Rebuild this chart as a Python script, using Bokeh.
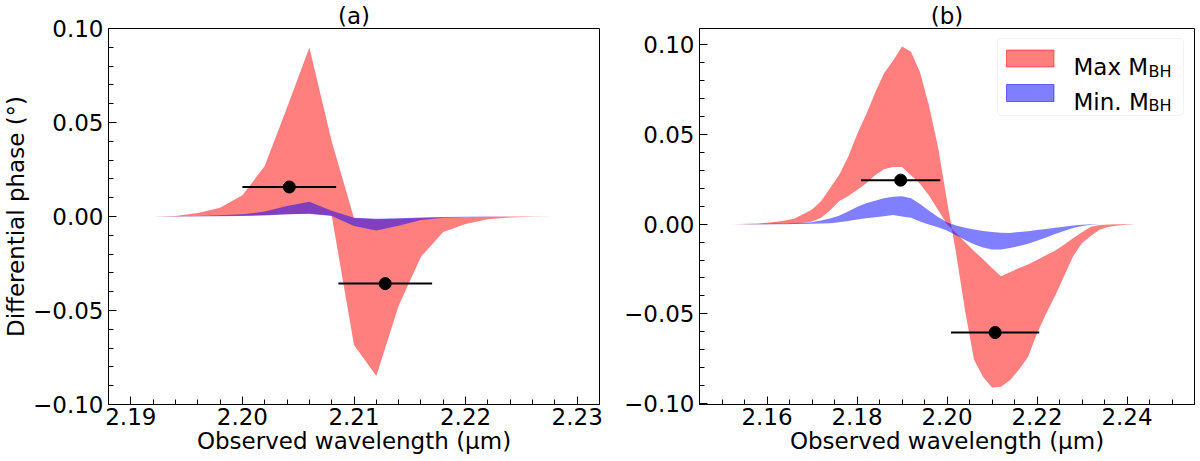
# Differential phase bands for max / min black-hole mass, two panels side by side.
from bokeh.embed import file_html
from bokeh.layouts import row
from bokeh.models import (BoxAnnotation, ColumnDataSource, CustomJSTickFormatter,
                          FixedTicker, Label, Range1d)
from bokeh.plotting import figure
from bokeh.resources import INLINE

FONT = "DejaVu Sans"
FS = "23px"
FIG_H = 461
B_TOP = 27
B_BOTTOM = 57
FRAME_H = FIG_H - B_TOP - B_BOTTOM

# ---- panel (a) ----
wl_a = [2.190, 2.192, 2.194, 2.196, 2.198, 2.200, 2.202, 2.204, 2.206, 2.208, 2.210,
        2.212, 2.214, 2.216, 2.218, 2.220, 2.222, 2.224, 2.226, 2.228, 2.230]
a_max_hi = [0.0, 0.0, 0.0003, 0.0019, 0.0047, 0.0113, 0.0268, 0.058, 0.0899, 0.040, -0.0008,
            -0.0015, -0.0012, -0.0008, -0.0004, -0.0002, -0.0001, 0.0, 0.0, 0.0, 0.0]
a_max_lo = [0.0, 0.0, 0.0, 0.0001, 0.0002, 0.0004, 0.0008, 0.0012, 0.0015, 0.0005, -0.0683,
            -0.0848, -0.0475, -0.0214, -0.0083, -0.0040, -0.0014, -0.0005, -0.0001, 0.0, 0.0]
a_min_hi = [0.0, 0.0, 0.0001, 0.0003, 0.0006, 0.0012, 0.0026, 0.0056, 0.0078, 0.0030, -0.0007,
            -0.0012, -0.0009, -0.0005, -0.0003, -0.0001, 0.0, 0.0, 0.0, 0.0, 0.0]
a_min_lo = [0.0, 0.0, 0.0, 0.0001, 0.0001, 0.0002, 0.0005, 0.0012, 0.0015, 0.0003, -0.0050,
            -0.0075, -0.0049, -0.0019, -0.0007, -0.0003, -0.0001, 0.0, 0.0, 0.0, 0.0]
a_obs_x = [2.2042, 2.2128]
a_obs_y = [0.0157, -0.0357]
a_obs_xerr = [0.0042, 0.0042]

# ---- panel (b) ----
wl_b = [2.150, 2.152, 2.154, 2.156, 2.158, 2.160, 2.162, 2.164, 2.166, 2.168,
        2.170, 2.172, 2.174, 2.176, 2.178, 2.180, 2.182, 2.184, 2.186, 2.188,
        2.190, 2.192, 2.194, 2.196, 2.198, 2.200, 2.202, 2.204, 2.206, 2.208,
        2.210, 2.212, 2.214, 2.216, 2.218, 2.220, 2.222, 2.224, 2.226, 2.228,
        2.230, 2.232, 2.234, 2.236, 2.238, 2.240, 2.242, 2.244, 2.246, 2.248, 2.250]
b_max_outer = [0.0, 0.0, 0.0001, 0.0002, 0.0004, 0.0008, 0.0013, 0.0020, 0.0030, 0.0055,
               0.0082, 0.0127, 0.0200, 0.0273, 0.0373, 0.0500, 0.0610, 0.0730, 0.0840, 0.0910,
               0.0990, 0.0960, 0.0846, 0.0660, 0.0430, 0.0130, -0.0160, -0.0480, -0.0755, -0.0850,
               -0.0910, -0.0906, -0.0870, -0.0810, -0.0740, -0.0610, -0.0500, -0.0400, -0.0290, -0.0180,
               -0.0105, -0.0065, -0.0030, -0.0015, -0.0007, -0.0003, -0.0001, 0.0, 0.0, 0.0, 0.0]
b_max_inner = [0.0, 0.0, 0.0, 0.0, 0.0, 0.0, 0.0001, 0.0002, 0.0004, 0.0008,
               0.0015, 0.0036, 0.0076, 0.0127, 0.0155, 0.0190, 0.0227, 0.0273, 0.0306, 0.0318,
               0.0318, 0.0273, 0.0225, 0.0160, 0.0080, 0.0, -0.0050, -0.0100, -0.0150, -0.0195,
               -0.0245, -0.0290, -0.0268, -0.0245, -0.0225, -0.0200, -0.0173, -0.0148, -0.0115, -0.0078,
               -0.0045, -0.0015, -0.0005, -0.0002, 0.0, 0.0, 0.0, 0.0, 0.0, 0.0, 0.0]
b_min_hi = [0.0, 0.0, 0.0, 0.0001, 0.0001, 0.0002, 0.0003, 0.0004, 0.0006, 0.0008,
            0.0010, 0.0020, 0.0031, 0.0047, 0.0071, 0.0095, 0.0116, 0.0130, 0.0144, 0.0153,
            0.0156, 0.0144, 0.0112, 0.0075, 0.0040, 0.0010, -0.0008, -0.0020, -0.0030, -0.0038,
            -0.0044, -0.0048, -0.0049, -0.0044, -0.0039, -0.0033, -0.0027, -0.0020, -0.0014, -0.0008,
            -0.0004, -0.0001, 0.0, 0.0, 0.0, 0.0, 0.0, 0.0, 0.0, 0.0, 0.0]
b_min_lo = [0.0, 0.0, 0.0, 0.0, 0.0, 0.0, 0.0, 0.0, 0.0001, 0.0001,
            0.0002, 0.0003, 0.0005, 0.0010, 0.0018, 0.0026, 0.0033, 0.0038, 0.0044, 0.0051,
            0.0042, 0.0035, 0.0015, -0.0002, -0.0018, -0.0036, -0.0062, -0.0088, -0.0112, -0.0130,
            -0.0142, -0.0141, -0.0133, -0.0122, -0.0110, -0.0092, -0.0074, -0.0055, -0.0038, -0.0022,
            -0.0010, -0.0003, 0.0, 0.0, 0.0, 0.0, 0.0, 0.0, 0.0, 0.0, 0.0]
b_obs_x = [2.1897, 2.2107]
b_obs_y = [0.0245, -0.0604]
b_obs_xerr = [0.0088, 0.0098]

legend_labels = ["Max M", "Min. M"]
legend_sub = "BH"
y_ticks = [-0.10, -0.05, 0.0, 0.05, 0.10]


def style_axis(ax, ticks, minor):
    ax.ticker = FixedTicker(ticks=ticks, minor_ticks=minor)
    ax.formatter = CustomJSTickFormatter(code="return tick.toFixed(2).replace('-', '\u2212');")
    ax.major_tick_in = 8
    ax.major_tick_out = 0
    ax.minor_tick_in = 5
    ax.minor_tick_out = 0
    ax.major_tick_line_color = "black"
    ax.minor_tick_line_color = "black"
    ax.axis_line_color = "black"
    ax.major_label_text_font = FONT
    ax.major_label_text_font_size = FS
    ax.major_label_text_color = "black"
    ax.major_label_standoff = 5
    ax.axis_label_text_font = FONT
    ax.axis_label_text_font_size = FS
    ax.axis_label_text_font_style = "normal"
    ax.axis_label_text_color = "black"
    ax.axis_label_standoff = 1


def make_panel(wl, max_a, max_b, min_a, min_b, ox, oy, oxerr, xr, yr, xticks, xminor,
               title, width, left, right):
    p = figure(width=width, height=FIG_H, title=title,
               x_range=Range1d(*xr), y_range=Range1d(*yr),
               output_backend="svg", toolbar_location=None,
               min_border_left=left, min_border_right=right,
               min_border_top=B_TOP, min_border_bottom=B_BOTTOM)
    p.title.align = "center"
    p.title.text_font = FONT
    p.title.text_font_size = FS
    p.title.text_font_style = "normal"
    p.title.text_color = "black"
    p.title.standoff = 0
    p.grid.visible = False
    p.outline_line_color = "black"
    p.outline_line_alpha = 1.0
    p.outline_line_width = 1

    style_axis(p.xaxis[0], xticks, xminor)
    p.xaxis.major_label_standoff = 3
    p.xaxis.axis_label_standoff = 0
    yminor = [round(-0.10 + 0.01 * i, 2) for i in range(21)]
    style_axis(p.yaxis[0], y_ticks, yminor)
    p.xaxis.axis_label = "Observed wavelength (\u03bcm)"

    band = ColumnDataSource(data=dict(x=wl, max_a=max_a, max_b=max_b, min_a=min_a, min_b=min_b))
    p.varea(x="x", y1="max_b", y2="max_a", source=band, fill_color="red", fill_alpha=0.5)
    p.varea(x="x", y1="min_b", y2="min_a", source=band, fill_color="blue", fill_alpha=0.5)

    obs = ColumnDataSource(data=dict(
        x=ox, y=oy,
        x0=[x - e for x, e in zip(ox, oxerr)],
        x1=[x + e for x, e in zip(ox, oxerr)]))
    p.segment(x0="x0", y0="y", x1="x1", y1="y", source=obs, line_color="black", line_width=2)
    p.scatter(x="x", y="y", source=obs, size=12, fill_color="black", line_color="black")
    return p


pa = make_panel(wl_a, a_max_hi, a_max_lo, a_min_hi, a_min_lo, a_obs_x, a_obs_y, a_obs_xerr,
                (2.188, 2.232), (-0.10, 0.10), [2.19, 2.20, 2.21, 2.22, 2.23],
                [round(2.188 + 0.002 * i, 3) for i in range(23)], "(a)", 620, 103, 21)
pa.yaxis.axis_label = "Differential phase (\u00b0)"

pb = make_panel(wl_b, b_max_outer, b_max_inner, b_min_hi, b_min_lo, b_obs_x, b_obs_y, b_obs_xerr,
                (2.145, 2.255), (-0.1005, 0.109), [2.16, 2.18, 2.20, 2.22, 2.24],
                [round(2.145 + 0.005 * i, 3) for i in range(23)], "(b)", 580, 79, 6)

# legend drawn by hand so the subscript can be rendered
W, H = 580 - 79 - 6, FRAME_H
scr = dict(left_units="screen", right_units="screen", top_units="screen", bottom_units="screen")
pb.add_layout(BoxAnnotation(left=W - 197, right=W - 11, top=H - 11, bottom=H - 88,
                            fill_color="white", fill_alpha=0.8, line_color="#d5d5d5",
                            line_width=1, border_radius=4, **scr))
for i, col in enumerate(["red", "blue"]):
    top = H - 22.5 - 34.5 * i
    pb.add_layout(BoxAnnotation(left=W - 188, right=W - 140.5, top=top, bottom=top - 17,
                                fill_color=col, fill_alpha=0.5, line_color=col,
                                line_alpha=0.5, line_width=1, **scr))
    base = H - 39.5 - 34.8 * i
    pb.add_layout(Label(x=W - 121, y=base, x_units="screen", y_units="screen",
                        text=legend_labels[i], text_baseline="alphabetic",
                        text_font=FONT, text_font_size=FS, text_color="black"))
    pb.add_layout(Label(x=W - 46, y=base - 4, x_units="screen", y_units="screen",
                        text=legend_sub, text_baseline="alphabetic",
                        text_font=FONT, text_font_size="16px", text_color="black"))

layout = row(pa, pb)
open("out.html", "w").write(file_html(layout, INLINE))
